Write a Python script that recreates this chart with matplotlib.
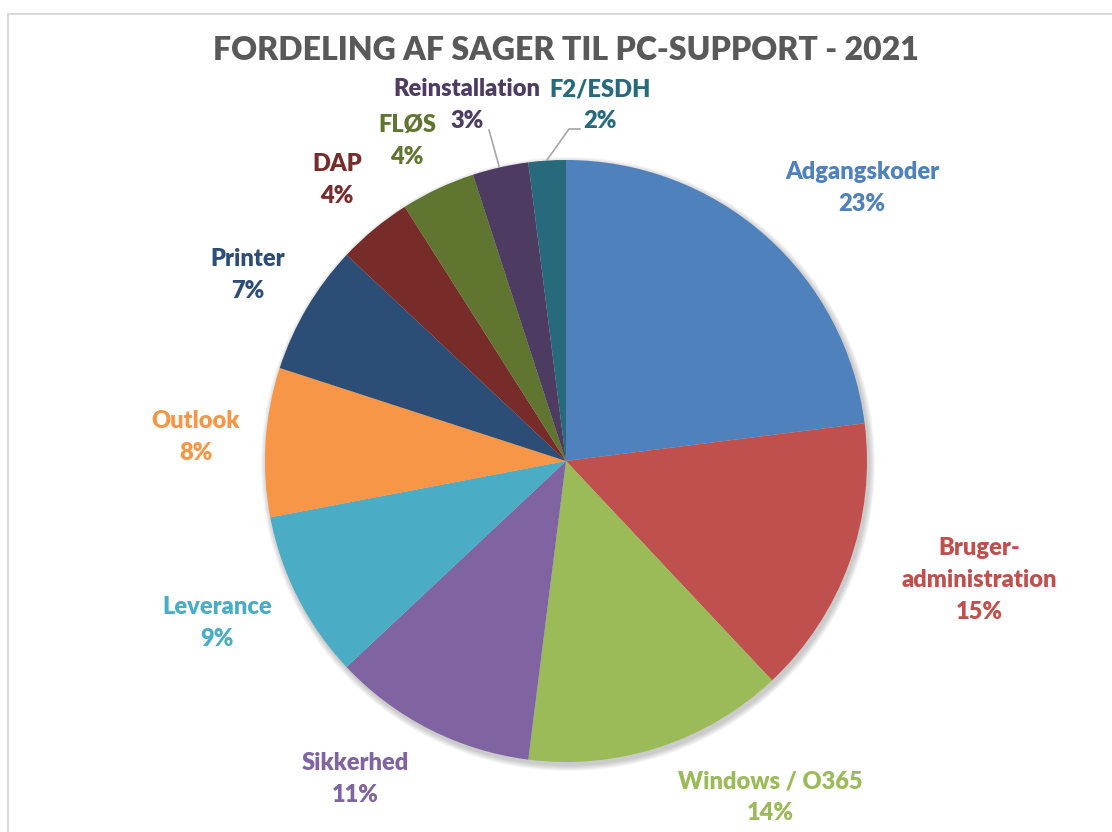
import matplotlib
matplotlib.use("Agg")
import matplotlib.pyplot as plt
from matplotlib.patches import Rectangle, Circle

plt.rcParams['font.family'] = ['Lato', 'DejaVu Sans']

title = "FORDELING AF SAGER TIL PC-SUPPORT - 2021"
categories = ["Adgangskoder", "Bruger-\nadministration", "Windows / O365", "Sikkerhed",
              "Leverance", "Outlook", "Printer", "DAP", "FLØS", "Reinstallation", "F2/ESDH"]
shares = [23, 15, 14, 11, 9, 8, 7, 4, 4, 3, 2]
colors = ["#4F81BD", "#C0504D", "#9BBB59", "#8064A2", "#4BACC6", "#F79646",
          "#2C4D75", "#772C2A", "#5F7530", "#4D3B62", "#276A7C"]

# centre of the first label line in pixels (x, y from top) - layout only
label_pos = [(862, 172), (979, 548), (770, 781), (355, 763), (217, 607), (196, 421),
             (248, 259), (337, 164), (407, 125), (467, 89), (600, 89)]

W, H = 1112, 832
cx, cy, R = 566, 461, 301
step = 32

fig = plt.figure(figsize=(W / 100, H / 100), dpi=100)
ax = fig.add_axes([0, 0, 1, 1])

# chart border (cut off on the right and bottom)
ax.add_patch(Rectangle((7.5, -20), 1200, H - 13.5 + 20, fill=False,
                       edgecolor="#D9D9D9", linewidth=1.5))

# soft shadow behind the pie
for k in range(6):
    ax.add_patch(Circle((cx + 2, H - cy - 3), R + 1 + k, color="black",
                        alpha=0.035, linewidth=0, zorder=0))

ax.pie(shares, colors=colors, startangle=90, counterclock=False,
       center=(cx, H - cy), radius=R, wedgeprops=dict(linewidth=0),
       frame=True)
ax.set_xlim(0, W)
ax.set_ylim(0, H)
ax.axis('off')

for name, val, col, (px, py) in zip(categories, shares, colors, label_pos):
    lines = name.split("\n") + [f"{val}%"]
    for i, line in enumerate(lines):
        ax.text(px, H - py - i * step, line, color=col, fontsize=17,
                fontweight='heavy', ha='center', va='center')

# leader lines for the two small slices
ax.plot([489, 499], [H - 130, H - 166], color="#A6A6A6", linewidth=1.2)
ax.plot([580, 569, 547], [H - 129, H - 129, H - 160], color="#A6A6A6", linewidth=1.2)

ax.text(566, H - 51, title, color="#595959", fontsize=23, fontweight='heavy',
        ha='center', va='center')

fig.savefig("out.png", dpi=100)
